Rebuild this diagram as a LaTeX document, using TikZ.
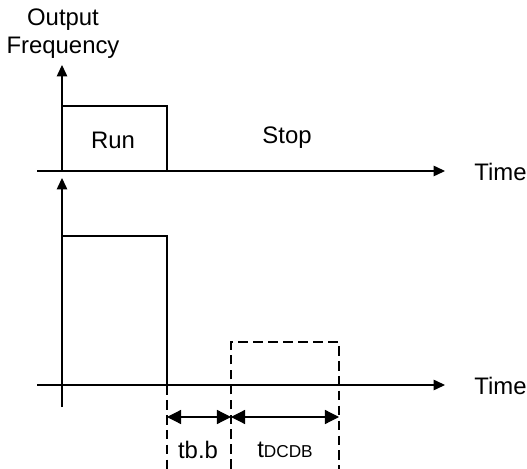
\documentclass[tikz,border=0pt]{standalone}
\usepackage{fontspec}
\setmainfont{Liberation Sans}
\usetikzlibrary{arrows.meta, positioning}

\begin{document}
\begin{tikzpicture}[x=0.02cm, y=-0.02cm, font=\fontsize{13.6}{15}\selectfont,
    axis arrow/.style={line width=0.6pt, -{Triangle[length=6.5pt, width=6pt]}},
    signal line/.style={line width=1.7pt},
    guide line/.style={line width=0.6pt, dash pattern=on 5.5pt off 3pt},
    span arrow/.style={line width=0.7pt, {Triangle[length=8pt, width=8pt]}-{Triangle[length=8pt, width=8pt]}}]
    \useasboundingbox (0,0) rectangle (527,469);

    % upper chart: axes
    \coordinate (topO)   at (62,171);
    \coordinate (topY)   at (62,65);
    \coordinate (topL)   at (37,171);
    \coordinate (topX)   at (445,171);
    \draw[axis arrow] (topO) -- (topY);
    \draw[axis arrow] (topL) -- (topX);
    \node (outlbl)  at (63,20) {Output};
    \node (freqlbl) at (63,48) {Frequency};
    \node[anchor=west, inner sep=0pt] (time1) at (474,172) {Time};

    % upper chart: run / stop
    \coordinate (runA) at (62,106);
    \coordinate (runB) at (167,106);
    \coordinate (runC) at (167,171);
    \coordinate (runD) at (403,171);
    \draw[signal line] (runA) -- (runB) -- (runC) -- (runD);
    \node (runlbl)  at (113,140) {Run};
    \node (stoplbl) at (287,138) {Stop};

    % lower chart: axes
    \coordinate (botO)  at (62,407);
    \coordinate (botY)  at (62,178);
    \coordinate (botL)  at (37,385);
    \coordinate (botX)  at (445,385);
    \draw[axis arrow] (botO) -- (botY);
    \draw[axis arrow] (botL) -- (botX);
    \node[anchor=west, inner sep=0pt] (time2) at (474,386) {Time};

    % lower chart: output drops, then DC braking
    \coordinate (outA) at (62,236);
    \coordinate (outB) at (167,236);
    \coordinate (outC) at (167,385);
    \coordinate (outD) at (339,385);
    \draw[signal line] (outA) -- (outB) -- (outC) -- (outD);

    % dashed DC braking window
    \coordinate (gA)  at (167,469);
    \coordinate (dbA) at (231,469);
    \coordinate (dbB) at (231,342);
    \coordinate (dbC) at (339,342);
    \coordinate (dbD) at (339,469);
    \draw[guide line] (outC) -- (gA);
    \draw[guide line] (dbA) -- (dbB) -- (dbC) -- (dbD);

    % time spans
    \coordinate (spA) at (167,417);
    \coordinate (spB) at (231,417);
    \coordinate (spC) at (339,417);
    \draw[span arrow] (spA) -- (spB);
    \draw[span arrow] (spB) -- (spC);
    \node (tbb)  at (198,450) {tb.b};
    \node (tdcdb) at (285,450) {t{\fontsize{9.8}{10}\selectfont DCDB}};
\end{tikzpicture}
\end{document}
